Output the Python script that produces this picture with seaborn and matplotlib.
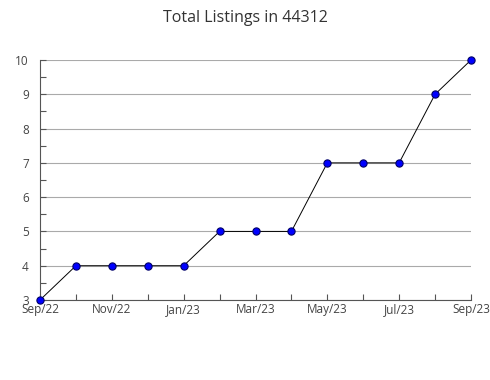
import matplotlib
matplotlib.use("Agg")
import matplotlib.pyplot as plt
import seaborn as sns
import pandas as pd

months = ["Sep/22", "Oct/22", "Nov/22", "Dec/22", "Jan/23", "Feb/23", "Mar/23",
          "Apr/23", "May/23", "Jun/23", "Jul/23", "Aug/23", "Sep/23"]
listings = [3, 4, 4, 4, 4, 5, 5, 5, 7, 7, 7, 9, 10]
y_ticks = [3, 4, 5, 6, 7, 8, 9, 10]

df = pd.DataFrame({"idx": range(len(months)), "month": months, "listings": listings})

sns.set_theme(style="white")
plt.rcParams["font.family"] = ["Open Sans", "DejaVu Sans"]

fig = plt.figure(figsize=(4.9, 3.8), dpi=100)
ax = fig.add_axes([40/490, 80/380, 431/490, 240/380])

ax.set_axisbelow(True)
for v in y_ticks:
    ax.axhline(v, color="#aaaaaa", linewidth=0.8, zorder=0)

sns.lineplot(data=df, x="idx", y="listings", ax=ax, color="black", linewidth=0.7,
             marker="o", markersize=5.2, markerfacecolor="#0000ff",
             markeredgecolor="#000066", markeredgewidth=0.8, zorder=3, clip_on=False)

ax.set_xlim(0, len(months) - 1)
ax.set_ylim(3, 10)
ax.set_xticks(list(range(len(months))))
ax.set_xticklabels([m if i % 2 == 0 else "" for i, m in enumerate(months)])
ax.set_yticks(y_ticks)
ax.set_yticks([v + 0.5 for v in y_ticks[:-1]], minor=True)
ax.tick_params(axis="x", direction="in", length=4, width=0.8, color="#555555",
               labelsize=8.5, labelcolor="#444444", pad=2, bottom=True)
ax.tick_params(axis="y", which="both", direction="in", length=4, width=0.8, color="#555555",
               labelsize=8.5, labelcolor="#444444", pad=8, left=True)
ax.set_xlabel("")
ax.set_ylabel("")

for s in ["top", "right"]:
    ax.spines[s].set_visible(False)
for s in ["left", "bottom"]:
    ax.spines[s].set_color("#555555")
    ax.spines[s].set_linewidth(0.8)

fig.suptitle("Total Listings in 44312", x=0.5, y=0.975, fontsize=11.5, color="#333333")

fig.savefig("out.png", dpi=100)
